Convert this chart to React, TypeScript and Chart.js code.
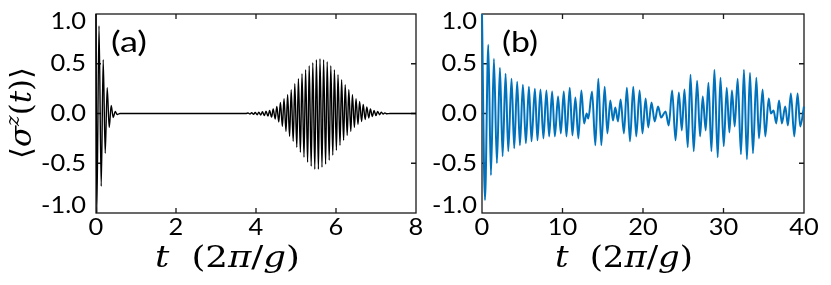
import React, { useEffect, useRef } from "react";
import { Chart, registerables } from "chart.js";
Chart.register(...registerables);

// ---------- Data ----------
// Panel (a): extremes of <sigma^z(t)>, t in units of 2pi/g
const aTimes = [
  0, 0.02, 0.075, 0.13, 0.18, 0.23, 0.28, 0.33, 0.38, 0.43, 0.48, 0.53, 0.6, 3.75,
  3.8, 3.85, 3.89, 3.94, 3.98, 4.03, 4.07, 4.12, 4.16, 4.21, 4.25, 4.3, 4.34, 4.39,
  4.43, 4.48, 4.52, 4.57, 4.61, 4.66, 4.7, 4.75, 4.79, 4.84, 4.88, 4.93, 4.97, 5.02,
  5.06, 5.11, 5.15, 5.2, 5.24, 5.29, 5.33, 5.38, 5.42, 5.47, 5.51, 5.56, 5.6, 5.65,
  5.69, 5.74, 5.78, 5.83, 5.87, 5.92, 5.96, 6.01, 6.05, 6.1, 6.14, 6.19, 6.23, 6.28,
  6.32, 6.37, 6.41, 6.46, 6.5, 6.55, 6.59, 6.64, 6.68, 6.73, 6.77, 6.82, 6.86, 6.91,
  6.95, 7.0, 7.04, 7.09, 7.13, 7.18, 7.22, 7.27, 7.35, 8.0,
];
const aValues = [
  1.0, -1.0, 0.88, -0.73, 0.54, -0.4, 0.26, -0.14, 0.08, -0.04, 0.02, -0.01, 0, 0,
  0.005, -0.005, 0.008, -0.008, 0.01, -0.012, 0.013, -0.015, 0.017, -0.02, 0.022, -0.026, 0.03, -0.036,
  0.045, -0.055, 0.07, -0.085, 0.11, -0.13, 0.15, -0.18, 0.19, -0.23, 0.24, -0.28, 0.3, -0.34,
  0.35, -0.39, 0.4, -0.44, 0.44, -0.49, 0.48, -0.53, 0.51, -0.56, 0.54, -0.56, 0.55, -0.54,
  0.54, -0.51, 0.52, -0.47, 0.48, -0.42, 0.44, -0.37, 0.39, -0.32, 0.34, -0.27, 0.29, -0.22,
  0.24, -0.18, 0.19, -0.14, 0.15, -0.11, 0.12, -0.08, 0.09, -0.06, 0.065, -0.045, 0.045, -0.03,
  0.03, -0.02, 0.02, -0.012, 0.012, -0.006, 0.006, -0.003, 0, 0,
];

// Panel (b): extremes of <sigma^z(t)>
const bTimes = [
  0, 0.37, 0.78, 1.11, 1.48, 1.85, 2.23, 2.56, 2.93, 3.26, 3.67, 4.0, 4.37, 4.71,
  5.08, 5.45, 5.83, 6.15, 6.57, 6.89, 7.26, 7.63, 8.0, 8.34, 8.71, 9.05, 9.45, 9.79,
  10.16, 10.49, 10.9, 11.23, 11.6, 11.97, 12.34, 12.68, 13.0, 13.2, 13.67, 14.08, 14.45, 14.82,
  15.24, 15.57, 15.94, 16.27, 16.56, 16.89, 17.22, 17.63, 18.0, 18.38, 18.79, 19.16, 19.58, 19.93,
  20.33, 20.65, 21.06, 21.45, 21.87, 22.25, 22.8, 23.2, 23.62, 24.04, 24.45, 24.82, 25.15, 25.56,
  25.9, 26.3, 26.72, 27.09, 27.42, 27.79, 28.13, 28.5, 28.87, 29.28, 29.62, 30.03, 30.4, 30.73,
  31.05, 31.39, 31.76, 32.17, 32.54, 32.91, 33.29, 33.66, 34.08, 34.4, 34.86, 35.19, 35.62, 35.89,
  36.22, 36.55, 36.9, 37.25, 37.67, 38.0, 38.37, 38.79, 39.2, 39.53, 40.0,
];
const bValues = [
  1.0, -0.87, 0.69, -0.62, 0.55, -0.5, 0.46, -0.43, 0.4, -0.38, 0.35, -0.35, 0.32, -0.32,
  0.29, -0.3, 0.27, -0.28, 0.25, -0.27, 0.24, -0.25, 0.23, -0.23, 0.22, -0.23, 0.17, -0.2,
  0.22, -0.23, 0.26, -0.22, 0.16, -0.25, 0.23, -0.1, 0.0, -0.05, 0.22, -0.32, 0.35, -0.32,
  0.27, -0.2, 0.13, -0.07, 0.06, -0.08, 0.14, -0.2, 0.26, -0.28, 0.27, -0.23, 0.23, -0.2,
  0.15, -0.14, 0.11, -0.08, 0.07, -0.04, 0.02, -0.12, 0.23, -0.27, 0.21, -0.17, 0.24, -0.34,
  0.39, -0.38, 0.33, -0.23, 0.17, -0.17, 0.31, -0.38, 0.44, -0.44, 0.36, -0.33, 0.26, -0.19,
  0.23, -0.13, 0.35, -0.41, 0.44, -0.46, 0.41, -0.4, 0.36, -0.25, 0.24, -0.23, 0.15, 0.0,
  0.03, -0.1, 0.13, -0.1, 0.07, -0.12, 0.2, -0.23, 0.2, -0.13, 0.07,
];

const aXTicks = [0, 2, 4, 6, 8];
const bXTicks = [0, 10, 20, 30, 40];
const yTickValues = [1.0, 0.5, 0.0, -0.5, -1.0];
const yTickLabels = ["1.0", "0.5", "0.0", "-0.5", "-1.0"];

// ---------- Drawing helpers ----------
type Seg = { t: string; font: string; dy?: number; gap?: number };

function segWidth(ctx: CanvasRenderingContext2D, segs: Seg[]) {
  let w = 0;
  for (const s of segs) {
    if (s.gap) { w += s.gap; continue; }
    ctx.font = s.font;
    w += ctx.measureText(s.t).width;
  }
  return w;
}

function drawSegs(ctx: CanvasRenderingContext2D, segs: Seg[], x: number, y: number, sx: number) {
  ctx.save();
  ctx.translate(x, y);
  ctx.scale(sx, 1);
  let cx = 0;
  for (const s of segs) {
    if (s.gap) { cx += s.gap; continue; }
    ctx.font = s.font;
    ctx.fillText(s.t, cx, s.dy || 0);
    cx += ctx.measureText(s.t).width;
  }
  ctx.restore();
}

const SERIF = '"DejaVu Serif", "Liberation Serif", serif';
const SANS = 'Lato, "Open Sans", sans-serif';

type PanelCfg = {
  xTicks: number[];
  yLabelRight: number;
  xTitleLeft: number;
  xTitleRight: number;
  panelLabel: string;
  panelLabelX: number;
  yTitle: boolean;
};

function decoPlugin(cfg: PanelCfg) {
  return {
    id: "deco",
    beforeDatasetsDraw(chart: any) {
      const ctx: CanvasRenderingContext2D = chart.ctx;
      const { left, right, top, bottom } = chart.chartArea;
      const xs = chart.scales.x;
      const ys = chart.scales.y;
      ctx.save();
      ctx.strokeStyle = "#1a1a1a";
      ctx.lineWidth = 1.3;
      ctx.strokeRect(left, top, right - left, bottom - top);
      const tl = 5;
      ctx.beginPath();
      cfg.xTicks.forEach((v, i) => {
        if (i === 0 || i === cfg.xTicks.length - 1) return;
        const px = xs.getPixelForValue(v);
        ctx.moveTo(px, bottom);
        ctx.lineTo(px, bottom - tl);
        ctx.moveTo(px, top);
        ctx.lineTo(px, top + tl);
      });
      yTickValues.forEach((v, i) => {
        if (i === 0 || i === yTickValues.length - 1) return;
        const py = ys.getPixelForValue(v);
        ctx.moveTo(left, py);
        ctx.lineTo(left + tl, py);
        ctx.moveTo(right, py);
        ctx.lineTo(right - tl, py);
      });
      ctx.stroke();
      ctx.restore();
    },
    afterDraw(chart: any) {
      const ctx: CanvasRenderingContext2D = chart.ctx;
      const { top, bottom } = chart.chartArea;
      const xs = chart.scales.x;
      const ys = chart.scales.y;
      ctx.save();
      ctx.fillStyle = "#000";
      const TS = 1.06;
      // x tick labels
      ctx.font = `24px ${SANS}`;
      ctx.textBaseline = "middle";
      cfg.xTicks.forEach((v) => {
        const px = xs.getPixelForValue(v);
        const w = ctx.measureText(String(v)).width * TS;
        ctx.save();
        ctx.translate(px - w / 2, bottom + 14);
        ctx.scale(TS, 1);
        ctx.textAlign = "left";
        ctx.fillText(String(v), 0, 0);
        ctx.restore();
      });
      // y tick labels (end labels pulled inward)
      yTickValues.forEach((v, i) => {
        let py = ys.getPixelForValue(v);
        if (i === 0) py = top + 7;
        if (i === yTickValues.length - 1) py = bottom - 8;
        const lab = yTickLabels[i];
        const w = ctx.measureText(lab).width * TS;
        ctx.save();
        ctx.translate(cfg.yLabelRight - w, py);
        ctx.scale(TS, 1);
        ctx.textAlign = "left";
        ctx.fillText(lab, 0, 0);
        ctx.restore();
      });
      // x title: t (2π/g)
      ctx.textAlign = "left";
      ctx.textBaseline = "alphabetic";
      const S = 29;
      const segsX: Seg[] = [
        { t: "t", font: `italic ${S}px ${SERIF}` },
        { t: "", font: "", gap: 18 },
        { t: "(2", font: `${S}px ${SERIF}` },
        { t: "π", font: `italic ${S}px ${SERIF}` },
        { t: "/", font: `${S}px ${SERIF}` },
        { t: "g", font: `italic ${S}px ${SERIF}` },
        { t: ")", font: `${S}px ${SERIF}` },
      ];
      const wx = segWidth(ctx, segsX);
      drawSegs(ctx, segsX, cfg.xTitleLeft, 267, (cfg.xTitleRight - cfg.xTitleLeft) / wx);
      // y title
      if (cfg.yTitle) {
        const segsY: Seg[] = [
          { t: "⟨", font: `${S}px ${SERIF}` },
          { t: "σ", font: `italic ${S}px ${SERIF}` },
          { t: "z", font: `italic 19px ${SERIF}`, dy: -12 },
          { t: "(", font: `${S}px ${SERIF}` },
          { t: "t", font: `italic ${S}px ${SERIF}` },
          { t: ")⟩", font: `${S}px ${SERIF}` },
        ];
        const wy = segWidth(ctx, segsY);
        ctx.save();
        ctx.translate(31, 113);
        ctx.rotate(-Math.PI / 2);
        const sy = 92 / wy;
        drawSegs(ctx, segsY, -46, 0, sy);
        ctx.restore();
      }
      // panel label
      ctx.font = `29px ${SANS}`;
      ctx.textBaseline = "alphabetic";
      const pw = ctx.measureText(cfg.panelLabel).width;
      ctx.save();
      ctx.translate(cfg.panelLabelX, 52);
      ctx.scale(36 / pw, 1);
      ctx.fillText(cfg.panelLabel, 0, 0);
      ctx.restore();
      ctx.restore();
    },
  };
}

function Panel(props: {
  left: number; width: number; pad: { left: number; right: number; top: number; bottom: number };
  times: number[]; values: number[]; xMax: number; color: string; lw: number; cfg: PanelCfg;
}) {
  const ref = useRef<HTMLCanvasElement | null>(null);
  useEffect(() => {
    if (!ref.current) return;
    const data = props.times.map((t, i) => ({ x: t, y: props.values[i] }));
    const chart = new Chart(ref.current, {
      type: "line",
      data: {
        datasets: [
          {
            data,
            borderColor: props.color,
            borderWidth: props.lw,
            pointRadius: 0,
            cubicInterpolationMode: "monotone",
            fill: false,
            clip: 4,
          } as any,
        ],
      },
      options: {
        animation: false,
        responsive: false,
        maintainAspectRatio: false,
        devicePixelRatio: 1,
        layout: { padding: props.pad },
        plugins: { legend: { display: false }, tooltip: { enabled: false }, title: { display: false } },
        events: [],
        scales: {
          x: { type: "linear", min: 0, max: props.xMax, display: false },
          y: { type: "linear", min: -1, max: 1, display: false },
        },
      },
      plugins: [decoPlugin(props.cfg)],
    });
    return () => chart.destroy();
  }, []);
  return (
    <canvas
      ref={ref}
      width={props.width}
      height={285}
      style={{ position: "absolute", left: props.left, top: 0, width: props.width, height: 285, display: "block" }}
    />
  );
}

export default function App() {
  return (
    <div style={{ position: "fixed", left: 0, top: 0, width: 831, height: 285, background: "#fff", overflow: "hidden" }}>
      <Panel
        left={0}
        width={430}
        pad={{ left: 96, right: 14, top: 14, bottom: 72 }}
        times={aTimes}
        values={aValues}
        xMax={8}
        color="#000000"
        lw={1.4}
        cfg={{ xTicks: aXTicks, yLabelRight: 86, xTitleLeft: 155, xTitleRight: 300, panelLabel: "(a)", panelLabelX: 111, yTitle: true }}
      />
      <Panel
        left={430}
        width={401}
        pad={{ left: 52, right: 27, top: 14, bottom: 72 }}
        times={bTimes}
        values={bValues}
        xMax={40}
        color="#0072BD"
        lw={2}
        cfg={{ xTicks: bXTicks, yLabelRight: 47, xTitleLeft: 125, xTitleRight: 263, panelLabel: "(b)", panelLabelX: 72, yTitle: false }}
      />
    </div>
  );
}
